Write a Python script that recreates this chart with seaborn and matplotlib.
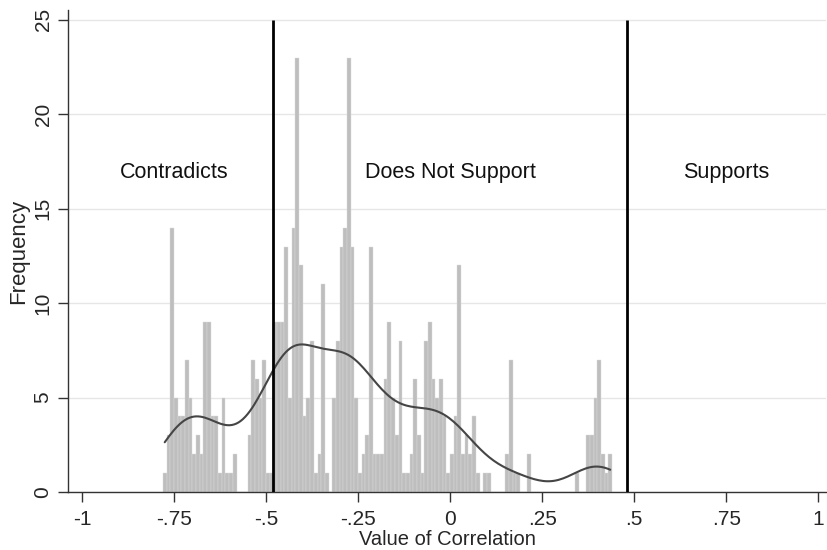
import numpy as np
import pandas as pd
import matplotlib
matplotlib.use('Agg')
import matplotlib.pyplot as plt
import seaborn as sns

# histogram: bins of width .01 starting at -.78
bin_start = -0.78
bin_width = 0.01
counts = [1, 3, 14, 5, 4, 4, 7, 5, 2, 3,
          2, 9, 9, 4, 4, 1, 5, 1, 1, 2,
          0, 0, 0, 3, 7, 6, 5, 7, 1, 1,
          9, 9, 9, 13, 5, 14, 23, 12, 4, 5,
          8, 1, 2, 11, 1, 0, 5, 8, 13, 14,
          23, 13, 5, 1, 2, 3, 13, 2, 2, 2,
          6, 9, 5, 3, 8, 1, 1, 2, 6, 3,
          1, 8, 9, 6, 5, 6, 4, 1, 2, 4,
          12, 2, 3, 2, 4, 1, 0, 1, 1, 0,
          0, 0, 0, 2, 7, 1, 1, 0, 0, 2,
          0, 0, 0, 0, 0, 0, 0, 0, 0, 0,
          0, 0, 1, 0, 0, 3, 3, 5, 7, 2,
          1, 2]

cutoffs = [-0.48, 0.48]
region_labels = ['Contradicts', 'Does Not Support', 'Supports']
region_x = [-0.75, 0, 0.75]
label_y = 16.9

x_ticks = [-1, -0.75, -0.5, -0.25, 0, 0.25, 0.5, 0.75, 1]
x_ticklabels = ['-1', '-.75', '-.5', '-.25', '0', '.25', '.5', '.75', '1']
y_ticks = [0, 5, 10, 15, 20, 25]

edges = bin_start + bin_width * np.arange(len(counts) + 1)
centers = (edges[:-1] + edges[1:]) / 2
df = pd.DataFrame({'corr': np.repeat(centers, counts)})

sns.set_style('white')
plt.rcParams['font.family'] = ['Liberation Sans', 'DejaVu Sans']

fig = plt.figure(figsize=(8.28, 5.5), dpi=100)
ax = fig.add_axes([0.082, 0.1055, 0.916, 0.8765])

sns.histplot(data=df, x='corr', bins=edges, kde=True, color='#bebebe', alpha=1,
             edgecolor='#dcdcdc', linewidth=0.3,
             kde_kws={'cut': 0, 'bw_adjust': 0.85}, ax=ax)
kde_line = ax.lines[-1]
kde_line.set_color('#454545')
kde_line.set_linewidth(1.5)

ax.vlines(cutoffs, 0, 25, color='black', linewidth=2, zorder=4)

for lab, xv in zip(region_labels, region_x):
    ax.text(xv, label_y, lab, ha='center', va='center', fontsize=15.5, color='#111111')

ax.set_xlim(-1.038, 1.022)
ax.set_ylim(0, 25.53)
ax.set_xticks(x_ticks)
ax.set_xticklabels(x_ticklabels, fontsize=15)
ax.set_yticks(y_ticks)
ax.set_yticklabels([str(t) for t in y_ticks], fontsize=15, rotation=90, va='center')
ax.set_xlabel('Value of Correlation', fontsize=14.5, labelpad=1)
ax.set_ylabel('Frequency', fontsize=16, labelpad=3)

ax.grid(axis='y', color='#e6e6e6', linewidth=1)
ax.set_axisbelow(True)
sns.despine(ax=ax)
for s in ['left', 'bottom']:
    ax.spines[s].set_color('#333333')
    ax.spines[s].set_linewidth(1)
ax.tick_params(axis='x', direction='out', length=7, width=1, color='#333333', pad=6,
               bottom=True)
ax.tick_params(axis='y', direction='out', length=7, width=1, color='#333333', pad=4,
               left=True)

fig.savefig('out.png', dpi=100)
